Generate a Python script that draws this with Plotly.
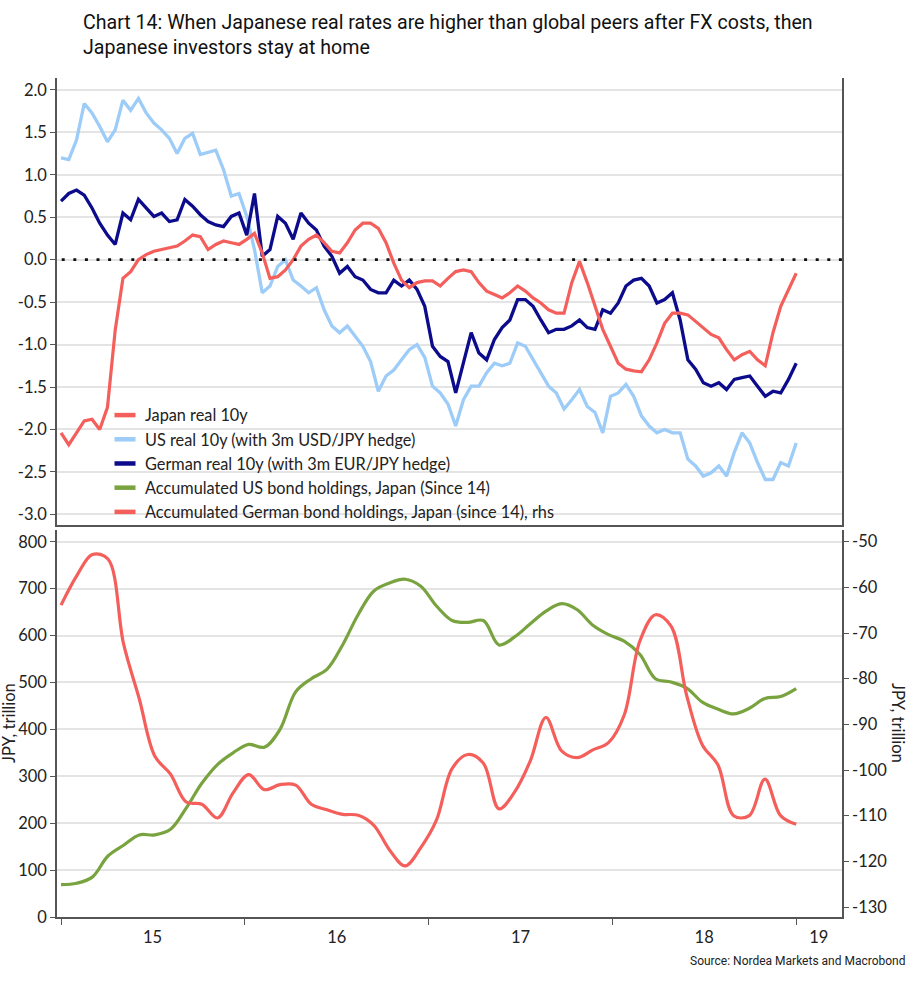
import plotly.graph_objects as go
import pandas as pd

# ---------------- data ----------------
dates_rates = pd.date_range("2015-01-01", "2019-01-01", periods=96)
dates_hold = pd.date_range("2015-01-01", "2019-01-01", periods=48)

japan_real = [-2.04, -2.18, -2.04, -1.90, -1.88, -2.00, -1.74, -0.83, -0.22, -0.14,
              0.00, 0.06, 0.10, 0.12, 0.14, 0.16, 0.22, 0.29, 0.27, 0.12,
              0.18, 0.22, 0.20, 0.18, 0.24, 0.31, 0.08, -0.22, -0.20, -0.12,
              0.00, 0.16, 0.24, 0.29, 0.20, 0.10, 0.08, 0.20, 0.35, 0.43,
              0.43, 0.37, 0.20, -0.04, -0.24, -0.33, -0.27, -0.25, -0.25, -0.31,
              -0.22, -0.14, -0.12, -0.14, -0.27, -0.37, -0.41, -0.45, -0.39, -0.31,
              -0.37, -0.45, -0.51, -0.59, -0.63, -0.63, -0.27, -0.02, -0.27, -0.55,
              -0.82, -1.02, -1.22, -1.29, -1.31, -1.32, -1.18, -0.98, -0.75, -0.63,
              -0.63, -0.65, -0.73, -0.80, -0.88, -0.92, -1.06, -1.18, -1.12, -1.08,
              -1.18, -1.25, -0.86, -0.55, -0.35, -0.16]

us_real_hedged = [1.20, 1.18, 1.41, 1.84, 1.73, 1.57, 1.39, 1.53, 1.88, 1.76,
                  1.90, 1.73, 1.61, 1.53, 1.43, 1.25, 1.43, 1.49, 1.24, 1.27,
                  1.29, 1.06, 0.75, 0.78, 0.51, 0.12, -0.39, -0.31, -0.08, 0.00,
                  -0.24, -0.31, -0.39, -0.33, -0.59, -0.78, -0.86, -0.78, -0.90, -1.02,
                  -1.20, -1.55, -1.37, -1.30, -1.18, -1.06, -1.00, -1.15, -1.49, -1.57,
                  -1.70, -1.96, -1.65, -1.49, -1.49, -1.33, -1.22, -1.25, -1.22, -0.98,
                  -1.02, -1.18, -1.33, -1.49, -1.57, -1.76, -1.65, -1.53, -1.73, -1.80,
                  -2.04, -1.61, -1.57, -1.47, -1.61, -1.84, -1.96, -2.04, -2.00, -2.04,
                  -2.04, -2.35, -2.43, -2.55, -2.51, -2.43, -2.55, -2.27, -2.04, -2.16,
                  -2.39, -2.59, -2.59, -2.39, -2.43, -2.16]

german_real_hedged = [0.69, 0.78, 0.82, 0.76, 0.61, 0.43, 0.29, 0.18, 0.55, 0.47,
                      0.71, 0.61, 0.51, 0.55, 0.45, 0.47, 0.71, 0.63, 0.53, 0.45,
                      0.41, 0.39, 0.51, 0.55, 0.29, 0.78, 0.04, 0.12, 0.51, 0.43,
                      0.24, 0.55, 0.43, 0.35, 0.16, 0.04, -0.16, -0.08, -0.20, -0.24,
                      -0.35, -0.39, -0.39, -0.24, -0.31, -0.24, -0.35, -0.55, -1.02, -1.14,
                      -1.20, -1.57, -1.22, -0.86, -1.10, -1.18, -0.94, -0.80, -0.71, -0.47,
                      -0.47, -0.55, -0.71, -0.86, -0.82, -0.82, -0.78, -0.71, -0.80, -0.82,
                      -0.59, -0.63, -0.51, -0.31, -0.24, -0.22, -0.31, -0.51, -0.47, -0.39,
                      -0.71, -1.18, -1.29, -1.45, -1.49, -1.45, -1.53, -1.41, -1.39, -1.37,
                      -1.49, -1.61, -1.55, -1.57, -1.41, -1.22]

us_bond_holdings = [69, 72, 85, 130, 153, 175, 175, 187, 232, 285,
                    325, 350, 368, 362, 400, 480, 508, 528, 580, 645,
                    695, 712, 720, 705, 663, 632, 628, 632, 580, 597,
                    625, 652, 668, 655, 622, 602, 588, 560, 508, 501,
                    488, 458, 443, 433, 445, 466, 470, 487]

german_bond_holdings = [-63.9, -57.5, -52.8, -53.8, -72.4, -84.4, -97.0, -100.9, -107.0, -107.5,
                        -110.5, -105.0, -101.0, -104.3, -103.2, -103.3, -107.5, -108.7, -109.7, -109.9,
                        -112.1, -117.5, -121.0, -117.0, -111.0, -99.7, -96.6, -98.5, -108.5, -104.8,
                        -98.0, -88.5, -95.8, -97.3, -95.6, -94.0, -88.0, -71.8, -66.0, -68.5,
                        -83.7, -94.5, -98.9, -110.0, -110.0, -102.0, -110.0, -111.9]

top_tickvals = [2.0, 1.5, 1.0, 0.5, 0.0, -0.5, -1.0, -1.5, -2.0, -2.5, -3.0]
top_ticktext = ["2.0", "1.5", "1.0", "0.5", "0.0", "-0.5", "-1.0", "-1.5", "-2.0", "-2.5", "-3.0"]
left_tickvals = [0, 100, 200, 300, 400, 500, 600, 700, 800]
right_tickvals = [-50, -60, -70, -80, -90, -100, -110, -120, -130]
right_ticktext = ["-50", "-60", "-70", "-80", "-90", "-100", "-110", "-120", "-130"]
year_ticks = ["2015-01-01", "2016-01-01", "2017-01-01", "2018-01-01", "2019-01-01"]
year_label_pos = ["2015-07-02", "2016-07-02", "2017-07-02", "2018-07-02", "2019-02-15"]
year_labels = ["15", "16", "17", "18", "19"]

# ---------------- style ----------------
RED = "#F45F5B"
LBLUE = "#9CCCF7"
NAVY = "#0B0B8C"
GREEN = "#78A33F"
AXC = "#555555"
GRID = "#E4E4E4"
TXT = "#222222"
FONT = "Lato"

W, H = 923, 984
ML, MR, MT, MB = 57, 81, 78, 67
PW = W - ML - MR
PH = H - MT - MB


def px_x(x):
    return (x - ML) / PW


def px_y(y):
    return (H - MB - y) / PH


XR = ["2014-12-24", "2019-04-02"]

fig = go.Figure()

# top panel lines
fig.add_trace(go.Scatter(x=dates_rates, y=us_real_hedged, mode="lines", line=dict(color=LBLUE, width=3.3),
                         showlegend=False, xaxis="x", yaxis="y"))
fig.add_trace(go.Scatter(x=dates_rates, y=german_real_hedged, mode="lines", line=dict(color=NAVY, width=3.3),
                         showlegend=False, xaxis="x", yaxis="y"))
fig.add_trace(go.Scatter(x=dates_rates, y=japan_real, mode="lines", line=dict(color=RED, width=3.2),
                         showlegend=False, xaxis="x", yaxis="y"))

# bottom panel lines
fig.add_trace(go.Scatter(x=dates_hold, y=us_bond_holdings, mode="lines",
                         line=dict(color=GREEN, width=3.2, shape="spline", smoothing=1.0),
                         showlegend=False, xaxis="x2", yaxis="y2"))
fig.add_trace(go.Scatter(x=dates_hold, y=german_bond_holdings, mode="lines",
                         line=dict(color=RED, width=3.2, shape="spline", smoothing=1.0),
                         showlegend=False, xaxis="x2", yaxis="y3"))
# carrier for the year-label axis
fig.add_trace(go.Scatter(x=[], y=[], xaxis="x3", yaxis="y2", showlegend=False, hoverinfo="skip"))

# legend entries
legend_items = [("Japan real 10y", RED),
                ("US real 10y (with 3m USD/JPY hedge)", LBLUE),
                ("German real 10y (with 3m EUR/JPY hedge)", NAVY),
                ("Accumulated US bond holdings, Japan (Since 14)", GREEN),
                ("Accumulated German bond holdings, Japan (since 14), rhs", RED)]
for name, col in legend_items:
    fig.add_trace(go.Scatter(x=[None], y=[None], mode="markers", name=name,
                             marker=dict(symbol="line-ew", size=15, color=col, line=dict(color=col, width=4.5)),
                             xaxis="x", yaxis="y", hoverinfo="skip"))

fig.add_shape(type="line", xref="x domain", x0=0.006, x1=1, yref="y", y0=0, y1=0,
              line=dict(color="#111111", width=2.8, dash="3px,8.6px"), layer="above")

tickfont = dict(family=FONT, size=16.5, color=TXT)

fig.update_layout(
    width=W, height=H,
    margin=dict(l=ML, r=MR, t=MT, b=MB, pad=0),
    paper_bgcolor="white", plot_bgcolor="white",
    font=dict(family=FONT, color=TXT),
    xaxis=dict(domain=[0, 1], anchor="y", type="date", range=XR, showline=True, linecolor=AXC, linewidth=1.5,
               showticklabels=False, ticks="", showgrid=False, zeroline=False),
    yaxis=dict(domain=[px_y(525), 1], anchor="x", range=[-3.126, 2.141], tickvals=top_tickvals,
               ticktext=top_ticktext, ticks="outside", ticklen=5, tickcolor=AXC, tickwidth=1.2,
               showline=True, mirror=True, linecolor=AXC, linewidth=1.5, gridcolor=GRID, gridwidth=1.5,
               zeroline=False, tickfont=tickfont),
    xaxis2=dict(domain=[0, 1], anchor="y2", type="date", range=XR, showline=True, linecolor=AXC, linewidth=1.5,
                tickvals=year_ticks, showticklabels=False, ticks="outside", ticklen=6, tickcolor=AXC,
                tickwidth=1.2, showgrid=False, zeroline=False),
    xaxis3=dict(overlaying="x2", anchor="y2", side="bottom", type="date", range=XR, showline=False,
                tickvals=year_label_pos, ticktext=year_labels, ticks="", showgrid=False, zeroline=False,
                tickfont=tickfont, ticklabelstandoff=8),
    yaxis2=dict(domain=[0, px_y(530)], anchor="x2", range=[0, 825], tickvals=left_tickvals,
                ticks="outside", ticklen=5, tickcolor=AXC, tickwidth=1.2, showline=True, linecolor=AXC,
                linewidth=1.5, gridcolor=GRID, gridwidth=1.5, zeroline=False, tickfont=tickfont),
    yaxis3=dict(overlaying="y2", anchor="x2", side="right", range=[-132.19, -47.44], tickvals=right_tickvals,
                ticktext=right_ticktext, ticks="outside", ticklen=5, tickcolor=AXC, tickwidth=1.2,
                showline=True, linecolor=AXC, linewidth=1.5, showgrid=False, zeroline=False, tickfont=tickfont),
    legend=dict(x=px_x(105), xanchor="left", y=px_y(398), yanchor="top", bgcolor="rgba(0,0,0,0)",
                font=dict(family=FONT, size=16.3, color=TXT), tracegroupgap=0, borderwidth=0),
    showlegend=True,
)

fig.add_annotation(text="Chart 14: When Japanese real rates are higher than global peers after FX costs, then"
                        "<br>Japanese investors stay at home",
                   xref="paper", yref="paper", x=px_x(81), y=px_y(9), xanchor="left", yanchor="top",
                   align="left", showarrow=False, font=dict(family="Roboto", size=19.6, color="#111111"))
fig.add_annotation(text="JPY, trillion", textangle=-90, xref="paper", yref="paper",
                   x=px_x(9), y=px_y(723), xanchor="center", yanchor="middle", showarrow=False,
                   font=dict(family=FONT, size=16.5, color=TXT))
fig.add_annotation(text="JPY, trillion", textangle=90, xref="paper", yref="paper",
                   x=px_x(898), y=px_y(723), xanchor="center", yanchor="middle", showarrow=False,
                   font=dict(family=FONT, size=16.5, color=TXT))
fig.add_annotation(text="Source: Nordea Markets and Macrobond", xref="paper", yref="paper",
                   x=px_x(908), y=px_y(961), xanchor="right", yanchor="middle", showarrow=False,
                   font=dict(family="Roboto", size=12, color=TXT))

fig.write_html("out.html", config={"displayModeBar": False},
               post_script="document.body.style.margin='0px';")
